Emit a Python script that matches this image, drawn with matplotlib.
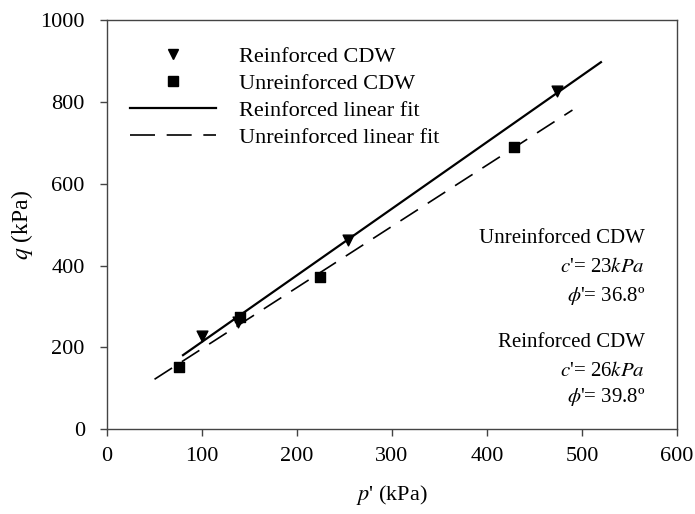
import matplotlib
matplotlib.use("Agg")
import matplotlib.pyplot as plt
from matplotlib.lines import Line2D

# measured points (p', q) in kPa
reinf_p = [100, 138, 254, 474]
reinf_q = [227, 262, 463, 826]
unreinf_p = [76, 140, 224, 428]
unreinf_q = [152, 274, 372, 690]

# fitted line end points
reinf_fit_p = [80, 520]
reinf_fit_q = [181, 897]
unreinf_fit_p = [50, 490]
unreinf_fit_q = [122, 780]

x_ticks = [0, 100, 200, 300, 400, 500, 600]
y_ticks = [0, 200, 400, 600, 800, 1000]

plt.rcParams["font.family"] = ["Liberation Serif", "DejaVu Serif"]
plt.rcParams["mathtext.fontset"] = "stix"

fig = plt.figure(figsize=(6.95, 5.14), dpi=100)
ax = fig.add_axes([0.154, 0.165, 0.82, 0.796])

ax.plot(reinf_fit_p, reinf_fit_q, color="black", lw=1.6, zorder=2)
ax.plot(unreinf_fit_p, unreinf_fit_q, color="black", lw=1.2,
        dashes=(12.5, 7), zorder=2)
ax.scatter(reinf_p, reinf_q, marker="v", s=60, color="black", zorder=3)
ax.scatter(unreinf_p, unreinf_q, marker="s", s=45, color="black", zorder=3)

ax.set_xlim(0, 600)
ax.set_ylim(0, 1000)
ax.set_xticks(x_ticks)
ax.set_yticks(y_ticks)
ax.tick_params(direction="out", length=5, width=1, colors="#444444",
               labelcolor="black", labelsize=16)
ax.tick_params(axis="x", pad=8)
ax.tick_params(axis="y", pad=11)
for where in ["top", "right", "bottom", "left"]:
    ax.spines[where].set_color("#444444")
    ax.spines[where].set_linewidth(1)

ax.set_xlabel("$p$' (kPa)", fontsize=16, labelpad=12)
ax.set_ylabel("$q$ (kPa)", fontsize=17, labelpad=4)

handles = [
    Line2D([], [], marker="v", ls="none", color="black", markersize=7.5),
    Line2D([], [], marker="s", ls="none", color="black", markersize=6.5),
    Line2D([], [], color="black", lw=1.6),
    Line2D([], [], color="black", lw=1.2, dashes=(15, 7)),
]
labels = ["Reinforced CDW", "Unreinforced CDW",
          "Reinforced linear fit", "Unreinforced linear fit"]
ax.legend(handles, labels, loc="upper left", bbox_to_anchor=(0.04, 0.935),
          frameon=False, fontsize=16, handlelength=3.9, handletextpad=1.0,
          labelspacing=0.28, borderpad=0, borderaxespad=0)

tx = 0.944
args = {"transform": ax.transAxes, "ha": "right", "va": "center", "fontsize": 15}
ax.text(tx, 0.465, "Unreinforced CDW", **args)
ax.text(tx, 0.394, "$c$'= 23$kPa$", **args)
ax.text(tx, 0.326, "$\\phi$'= 36.8º", **args)
ax.text(tx, 0.211, "Reinforced CDW", **args)
ax.text(tx, 0.142, "$c$'= 26$kPa$", **args)
ax.text(tx, 0.078, "$\\phi$'= 39.8º", **args)

plt.savefig("out.png", dpi=100)
